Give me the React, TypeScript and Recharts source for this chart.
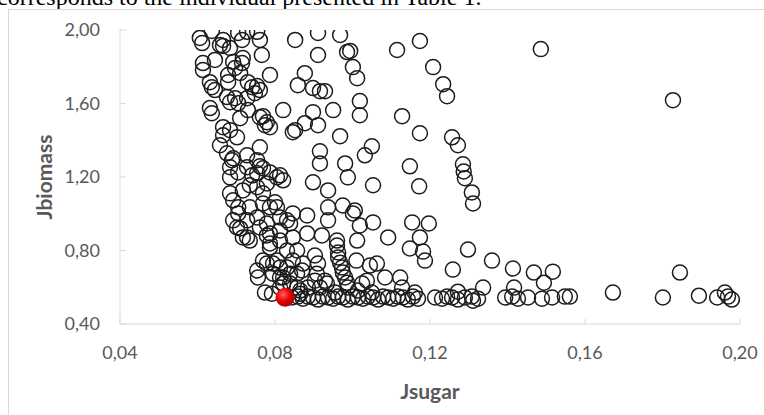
import React from 'react';
import { ScatterChart, Scatter, XAxis, YAxis } from 'recharts';

// left, dense band of solutions
const bandSugar = [
  0.0606, 0.0637, 0.0666, 0.0705, 0.0754, 0.0761, 0.0766, 0.0612, 0.0658, 0.0715,
  0.0728, 0.0614, 0.0614, 0.0645, 0.0692, 0.0715, 0.0697, 0.0632, 0.0637, 0.0679,
  0.0730, 0.0741, 0.0761, 0.0787, 0.0632, 0.0637, 0.0676, 0.0684, 0.0697, 0.0730,
  0.0761, 0.0787, 0.0779, 0.0821, 0.0846, 0.0666, 0.0666, 0.0684, 0.0702, 0.0658,
  0.0676, 0.0689, 0.0728, 0.0761, 0.0754, 0.0769, 0.0684, 0.0705, 0.0728, 0.0741,
  0.0787, 0.0813, 0.0821, 0.0684, 0.0692, 0.0754, 0.0769, 0.0779, 0.0800, 0.0735,
  0.0705, 0.0692, 0.0710, 0.0728, 0.0754, 0.0728, 0.0761, 0.0779, 0.0805, 0.0813,
  0.0831, 0.0846, 0.0839, 0.0787, 0.0813, 0.0831, 0.0857, 0.0756, 0.0769, 0.0795,
  0.0813, 0.0795, 0.0821, 0.0857, 0.0872, 0.0846, 0.0813, 0.0839, 0.0865, 0.0645,
  0.0666, 0.0684, 0.0717, 0.0710, 0.0679, 0.0754, 0.0705, 0.0728, 0.0748, 0.0769,
  0.0774, 0.0710, 0.0692, 0.0761, 0.0684, 0.0754, 0.0805, 0.0705, 0.0769, 0.0787,
  0.0702, 0.0717, 0.0735, 0.0779, 0.0787, 0.0813, 0.0846, 0.0787, 0.0779, 0.0805,
  0.0831, 0.0754, 0.0813, 0.0839, 0.0821, 0.0857, 0.0717, 0.0735, 0.0774, 0.0792,
];
const bandBiomass = [
  1.957, 1.995, 1.946, 1.984, 1.990, 1.946, 1.864, 1.929, 1.918, 1.946,
  1.990, 1.820, 1.782, 1.837, 1.826, 1.820, 1.793, 1.716, 1.689, 1.716,
  1.716, 1.689, 1.673, 1.755, 1.575, 1.547, 1.635, 1.607, 1.629, 1.564,
  1.525, 1.471, 1.498, 1.564, 1.444, 1.471, 1.427, 1.455, 1.416, 1.373,
  1.329, 1.291, 1.318, 1.362, 1.291, 1.247, 1.253, 1.225, 1.253, 1.209,
  1.225, 1.209, 1.182, 1.111, 1.073, 1.144, 1.111, 1.165, 1.062, 1.035,
  1.035, 0.964, 0.920, 0.964, 0.980, 0.871, 0.925, 0.882, 1.035, 0.980,
  0.964, 1.002, 0.947, 0.816, 0.854, 0.800, 0.800, 0.653, 0.745, 0.729,
  0.707, 0.674, 0.653, 0.674, 0.729, 0.745, 0.598, 0.620, 0.582, 1.673,
  1.913, 1.902, 1.847, 1.766, 1.755, 1.695, 1.602, 1.629, 1.656, 1.531,
  1.482, 1.520, 1.302, 1.258, 1.198, 1.220, 1.198, 1.002, 1.056, 1.035,
  0.925, 0.871, 0.854, 0.947, 0.893, 0.909, 0.871, 0.838, 0.729, 0.745,
  0.707, 0.691, 0.653, 0.674, 0.620, 0.598, 1.127, 1.155, 0.571, 0.565,
];

// middle region
const midSugar = [
  0.0852, 0.0911, 0.0911, 0.0968, 0.0986, 0.1001, 0.1012, 0.0994, 0.0877, 0.0859,
  0.0898, 0.0916, 0.0929, 0.1019, 0.1019, 0.1115, 0.1128, 0.1174, 0.0950, 0.0898,
  0.0877, 0.0911, 0.0852, 0.0968, 0.0916, 0.0916, 0.0981, 0.1032, 0.1050, 0.1148,
  0.1174, 0.0898, 0.0937, 0.0988, 0.1053, 0.0937, 0.0975, 0.1006, 0.1001, 0.0883,
  0.0937, 0.1019, 0.1053, 0.1154, 0.0921, 0.0883, 0.1012, 0.1092, 0.1148, 0.0960,
  0.0960, 0.0963, 0.0963, 0.0968, 0.0973, 0.0975, 0.0981, 0.0986, 0.0988, 0.1010,
  0.1045, 0.1084, 0.1123, 0.1128, 0.0903, 0.0911, 0.0870, 0.0903, 0.0929, 0.0885,
  0.0916, 0.1025, 0.1014, 0.0908, 0.0934, 0.1037, 0.1063,
];
const midBiomass = [
  1.946, 1.984, 1.864, 1.973, 1.880, 1.798, 1.738, 1.886, 1.765, 1.700,
  1.684, 1.667, 1.667, 1.613, 1.536, 1.891, 1.531, 1.940, 1.564, 1.553,
  1.493, 1.482, 1.455, 1.422, 1.340, 1.274, 1.274, 1.318, 1.367, 1.258,
  1.438, 1.171, 1.127, 1.198, 1.155, 1.035, 1.045, 1.018, 1.002, 0.991,
  0.964, 0.936, 0.953, 0.953, 0.882, 0.893, 0.854, 0.871, 0.811, 0.854,
  0.827, 0.789, 0.762, 0.734, 0.707, 0.680, 0.653, 0.625, 0.598, 0.745,
  0.718, 0.653, 0.653, 0.598, 0.773, 0.729, 0.691, 0.636, 0.636, 0.598,
  0.598, 0.620, 0.582, 0.674, 0.620, 0.636, 0.729,
];

// right, sparse region
const rightSugar = [
  0.1486, 0.1208, 0.1234, 0.1244, 0.1827, 0.1257, 0.1272, 0.1172, 0.1285, 0.1287,
  0.1290, 0.1308, 0.1311, 0.1197, 0.1174, 0.1182, 0.1187, 0.1298, 0.1360, 0.1259,
  0.1414, 0.1468, 0.1517, 0.1494, 0.1417, 0.1337, 0.1672, 0.1845, 0.1801, 0.1894,
  0.1941, 0.1961, 0.1969, 0.1979, 0.1548, 0.1561,
];
const rightBiomass = [
  1.896, 1.798, 1.705, 1.640, 1.618, 1.416, 1.373, 1.149, 1.269, 1.230,
  1.193, 1.116, 1.056, 0.947, 0.871, 0.794, 0.745, 0.805, 0.745, 0.696,
  0.702, 0.680, 0.685, 0.625, 0.598, 0.598, 0.571, 0.680, 0.544, 0.554,
  0.544, 0.571, 0.549, 0.533, 0.549, 0.549,
];

// lower row of solutions near Jbiomass = 0.55
const floorSugar = [
  0.0844, 0.0859, 0.0872, 0.0885, 0.0898, 0.0911, 0.0924, 0.0937, 0.0950, 0.0963,
  0.0975, 0.0988, 0.1001, 0.1014, 0.1027, 0.1040, 0.1053, 0.1066, 0.1079, 0.1092,
  0.1105, 0.1117, 0.1130, 0.1143, 0.1156, 0.1169, 0.1213, 0.1231, 0.1244, 0.1257,
  0.1272, 0.1290, 0.1308, 0.1324, 0.1394, 0.1412, 0.1427, 0.1453, 0.1489, 0.1515,
  0.0865, 0.0955, 0.1050, 0.1161, 0.1272, 0.1311,
];
const floorBiomass = [
  0.544, 0.549, 0.538, 0.549, 0.544, 0.533, 0.549, 0.544, 0.538, 0.549,
  0.544, 0.533, 0.549, 0.544, 0.538, 0.549, 0.544, 0.533, 0.549, 0.544,
  0.538, 0.549, 0.544, 0.533, 0.549, 0.538, 0.544, 0.538, 0.549, 0.544,
  0.533, 0.544, 0.549, 0.538, 0.544, 0.549, 0.538, 0.544, 0.538, 0.544,
  0.565, 0.571, 0.571, 0.571, 0.576, 0.527,
];

// highlighted individual
const bestSugar = [0.0826];
const bestBiomass = [0.545];

const xTicks = [0.04, 0.08, 0.12, 0.16, 0.2];
const yTicks = [0.4, 0.8, 1.2, 1.6, 2.0];

const zip = (xs: number[], ys: number[]) => xs.map((x, i) => ({ x, y: ys[i] }));

const points = [
  ...zip(bandSugar, bandBiomass),
  ...zip(midSugar, midBiomass),
  ...zip(rightSugar, rightBiomass),
  ...zip(floorSugar, floorBiomass),
];
const best = zip(bestSugar, bestBiomass);

const fmt = (v: number) => v.toFixed(2).replace('.', ',');
const FONT = 'Lato, "Open Sans", sans-serif';
const GRAY = '#595959';
const AXIS = '#d9d9d9';

const XTick = (props: any) => {
  const { x, y, payload } = props;
  return (
    <g>
      <line x1={x} x2={x} y1={y} y2={y - 5} stroke={AXIS} />
      <text x={x} y={y + 35} textAnchor="middle" fill={GRAY} fontSize={18} fontFamily={FONT}>
        {fmt(payload.value)}
      </text>
    </g>
  );
};

const YTick = (props: any) => {
  const { x, y, payload } = props;
  return (
    <g>
      <line x1={x} x2={x + 6} y1={y} y2={y} stroke={AXIS} />
      <text x={x - 20} y={y + 6} textAnchor="end" fill={GRAY} fontSize={18} fontFamily={FONT}>
        {fmt(payload.value)}
      </text>
    </g>
  );
};

const Ring = (p: any) => (
  <circle cx={p.cx} cy={p.cy} r={7.5} fill="none" stroke="#1c1c1c" strokeWidth={1.5} />
);

const BestDot = (p: any) => (
  <g>
    <defs>
      <radialGradient id="bestGrad" cx="40%" cy="35%" r="65%">
        <stop offset="0%" stopColor="#ff6060" />
        <stop offset="55%" stopColor="#e80000" />
        <stop offset="100%" stopColor="#b00000" />
      </radialGradient>
    </defs>
    <circle cx={p.cx} cy={p.cy} r={9.5} fill="url(#bestGrad)" />
  </g>
);

export default function App() {
  return (
    <div
      style={{
        position: 'fixed',
        left: 0,
        top: 0,
        width: 764,
        height: 415,
        overflow: 'hidden',
        background: '#fff',
      }}
    >
      <div
        style={{
          position: 'absolute',
          left: -3,
          top: -15,
          fontFamily: '"Liberation Serif", serif',
          fontSize: 24,
          lineHeight: '24px',
          whiteSpace: 'nowrap',
          color: '#000',
        }}
      >
        corresponds to the individual presented in Table 1.
      </div>
      <div
        style={{
          position: 'absolute',
          left: 8,
          top: 9,
          width: 770,
          height: 420,
          border: `1px solid ${AXIS}`,
          background: '#fff',
        }}
      >
        <ScatterChart width={752} height={405} margin={{ top: 20, right: 21, bottom: 11, left: 10 }}>
          <XAxis
            type="number"
            dataKey="x"
            domain={[0.04, 0.2]}
            ticks={xTicks}
            interval={0}
            height={80}
            tickLine={false}
            tickSize={0}
            tickMargin={0}
            axisLine={{ stroke: AXIS }}
            tick={<XTick />}
            allowDataOverflow
            label={{
              value: 'Jsugar',
              position: 'center',
              dy: 28,
              fill: GRAY,
              fontSize: 21,
              fontWeight: 700,
              fontFamily: FONT,
            }}
          />
          <YAxis
            type="number"
            dataKey="y"
            domain={[0.4, 2]}
            ticks={yTicks}
            interval={0}
            width={101}
            tickLine={false}
            tickSize={0}
            tickMargin={0}
            axisLine={{ stroke: AXIS }}
            tick={<YTick />}
            allowDataOverflow
            label={{
              value: 'Jbiomass',
              angle: -90,
              position: 'center',
              dx: -24.5,
              fill: GRAY,
              fontSize: 21,
              fontWeight: 700,
              fontFamily: FONT,
            }}
          />
          <Scatter data={points} shape={Ring} isAnimationActive={false} />
          <Scatter data={best} shape={BestDot} isAnimationActive={false} />
        </ScatterChart>
      </div>
    </div>
  );
}
